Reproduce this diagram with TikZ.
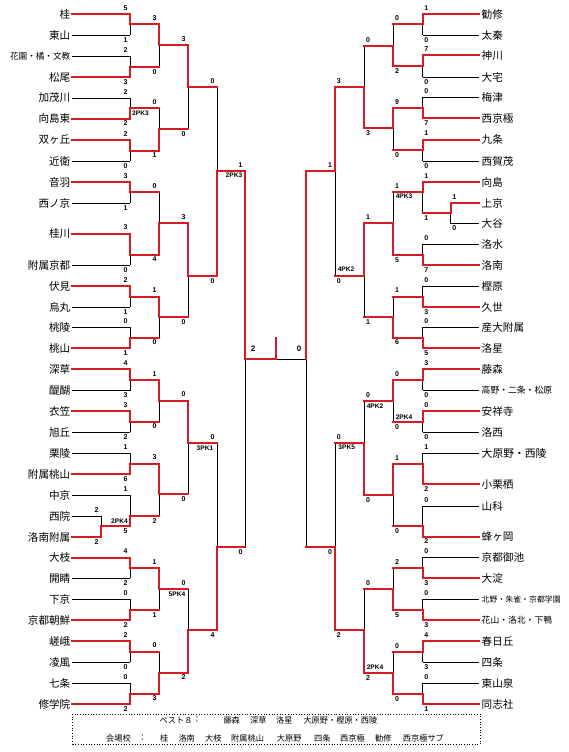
\documentclass[tikz,border=0pt]{standalone}
\usepackage{fontspec}
\setmainfont{Liberation Sans}
\newfontfamily\jpf{Noto Sans CJK JP}
\definecolor{wred}{RGB}{214,28,34}
\pgfdeclarelayer{bg}
\pgfsetlayers{bg,main}
\tikzset{
 blk/.style={line width=0.8pt, black},
 win/.style={line width=2pt, wred, line join=miter, line cap=rect},
 sc/.style={font=\fontsize{7}{7}\selectfont\bfseries, inner sep=0pt},
 pk/.style={font=\fontsize{6.6}{7}\selectfont\bfseries, inner sep=0pt},
 leg/.style={font=\fontsize{8.2}{9}\jpf, inner sep=0pt, anchor=west},
}
\newcounter{nd}
\newcommand{\bmatch}[7]{%
 \begin{pgfonlayer}{bg}\draw[blk] (#2,#4)--(#2,#5);\end{pgfonlayer}
 \draw[win] (#1,#7)--(#2,#7)--(#2,#6)--(#3,#6);}
\newcommand{\sco}[3]{\stepcounter{nd}\node[sc] (s\thend) at (#1,#2) {#3};}
\newcommand{\scL}[5]{\sco{#1-4.5}{#2-6}{#4}\sco{#1-4.5}{#3+5}{#5}}
\newcommand{\scR}[5]{\sco{#1+3.7}{#2-6}{#4}\sco{#1+3.7}{#3+5}{#5}}
\newcommand{\pkl}[3]{\stepcounter{nd}\node[pk] (p\thend) at (#1,#2) {#3};}
\begin{document}
\begin{tikzpicture}[x=1pt,y=-1pt]
\useasboundingbox (0,0) rectangle (569,752);
\begin{pgfonlayer}{bg}\fill[white] (0,0) rectangle (569,752);\end{pgfonlayer}
% ---------- teams left
\foreach \n/\y/\f/\e [count=\i] in {桂/14/10.6/130, 東山/35/10.6/130, 花園・橘・文教/56.5/8.6/130, 松尾/77/10.6/130, 加茂川/98/10.6/130, 向島東/118.5/10.6/130, 双ヶ丘/140/10.6/130, 近衛/161/10.6/130, 音羽/182/10.6/130, 西ノ京/203/10.6/130, 桂川/233.5/10.6/130, 附属京都/265/10.6/130, 伏見/286/10.6/130, 烏丸/307/10.6/130, 桃陵/327/10.6/130, 桃山/348/10.6/130, 深草/369/10.6/130, 醍醐/390.5/10.6/130, 衣笠/411/10.6/130, 旭丘/432/10.6/130, 栗陵/453/10.6/130, 附属桃山/474/10.6/130, 中京/495/10.6/130, 西院/516/10.6/101, 洛南附属/537/10.6/101, 大枝/557.5/10.6/130, 開睛/578/10.6/130, 下京/599/10.6/130, 京都朝鮮/620/10.6/130, 嵯峨/641/10.6/130, 凌風/662/10.6/130, 七条/683/10.6/130, 修学院/704/10.6/130}{
 \node[inner sep=0pt, font=\fontsize{\f}{\f}\jpf, anchor=east] (tl\i) at (70.5,\y) {\n};
 \begin{pgfonlayer}{bg}\draw[blk] (72,\y)--(\e,\y);\end{pgfonlayer}
}
% ---------- teams right
\foreach \n/\y/\f/\e [count=\i] in {勧修/14/10.6/422.7, 太秦/35/10.6/422.7, 神川/55.5/10.6/422.7, 大宅/77/10.6/422.7, 梅津/97/10.6/422.7, 西京極/118/10.6/422.7, 九条/139.5/10.6/422.7, 西賀茂/161/10.6/422.7, 向島/182/10.6/422.7, 上京/203/10.6/450.7, 大谷/223.5/10.6/450.7, 洛水/244/10.6/422.7, 洛南/265/10.6/422.7, 樫原/286/10.6/422.7, 久世/307/10.6/422.7, 産大附属/327/10.6/422.7, 洛星/348/10.6/422.7, 藤森/369/10.6/422.7, 高野・二条・松原/390/8.8/422.7, 安祥寺/411/10.6/422.7, 洛西/432/10.6/422.7, 大原野・西陵/453/10.8/422.7, 小栗栖/484/10.6/422.7, 山科/506/10.6/422.7, 蜂ヶ岡/536.5/10.6/422.7, 京都御池/557/10.6/422.7, 大淀/578/10.6/422.7, 北野・朱雀・京都学園/599/7.9/422.7, 花山・洛北・下鴨/620/8.8/422.7, 春日丘/641/10.6/422.7, 四条/662/10.6/422.7, 東山泉/683/10.6/422.7, 同志社/704/10.6/422.7}{
 \node[inner sep=0pt, font=\fontsize{\f}{\f}\jpf, anchor=west] (tr\i) at (481.5,\y) {\n};
 \begin{pgfonlayer}{bg}\draw[blk] (479,\y)--(\e,\y);\end{pgfonlayer}
}
% ---------- left bracket
\bmatch{72}{101}{130}{516}{537}{526}{537}
\bmatch{72}{130}{159}{14}{35}{24.5}{14}
\bmatch{72}{130}{159}{56.5}{77}{67}{77}
\bmatch{72}{130}{159}{98}{118.5}{108}{118.5}
\bmatch{72}{130}{159}{140}{161}{150.5}{140}
\bmatch{72}{130}{159}{182}{203}{192}{182}
\bmatch{72}{130}{159}{233.5}{265}{254.5}{233.5}
\bmatch{72}{130}{159}{286}{307}{296.5}{286}
\bmatch{72}{130}{159}{327}{348}{337.5}{348}
\bmatch{72}{130}{159}{369}{390.5}{380}{369}
\bmatch{72}{130}{159}{411}{432}{421.5}{411}
\bmatch{72}{130}{159}{453}{474}{463.5}{474}
\bmatch{101}{130}{159}{495}{526}{516}{526}
\bmatch{72}{130}{159}{557.5}{578}{568}{557.5}
\bmatch{72}{130}{159}{599}{620}{610}{620}
\bmatch{72}{130}{159}{641}{662}{651.5}{641}
\bmatch{72}{130}{159}{683}{704}{693.5}{704}
\bmatch{130}{159}{188}{24.5}{67}{45.5}{24.5}
\bmatch{130}{159}{188}{108}{150.5}{129}{150.5}
\bmatch{130}{159}{188}{192}{254.5}{223}{254.5}
\bmatch{130}{159}{188}{296.5}{337.5}{317}{296.5}
\bmatch{130}{159}{188}{380}{421.5}{400.5}{380}
\bmatch{130}{159}{188}{463.5}{516}{494}{463.5}
\bmatch{130}{159}{188}{568}{610}{589}{568}
\bmatch{130}{159}{188}{651.5}{693.5}{672.5}{693.5}
\bmatch{159}{188}{217}{45.5}{129}{87}{45.5}
\bmatch{159}{188}{217}{223}{317}{276}{223}
\bmatch{159}{188}{217}{400.5}{494}{442.7}{400.5}
\bmatch{159}{188}{217}{589}{672.5}{630}{672.5}
\bmatch{188}{217}{245}{87}{276}{170.7}{276}
\bmatch{188}{217}{245}{442.7}{630}{546.7}{630}
\begin{pgfonlayer}{bg}
 \draw[blk] (245,170.7)--(245,546.7);
 \draw[blk] (276,359)--(306,359);
 \draw[blk] (306,170.7)--(306,546.7);
\end{pgfonlayer}
\draw[win] (217,170.7)--(245,170.7)--(245,359)--(276,359)--(276,338);
% ---------- right bracket
\bmatch{479}{450.7}{422.7}{203}{223.5}{212.7}{203}
\bmatch{479}{422.7}{393.3}{14}{35}{24.5}{14}
\bmatch{479}{422.7}{393.3}{55.5}{77}{66.5}{55.5}
\bmatch{479}{422.7}{393.3}{97}{118}{108}{118}
\bmatch{479}{422.7}{393.3}{139.5}{161}{150}{139.5}
\bmatch{479}{422.7}{393.3}{182}{212.7}{191.7}{182}
\bmatch{479}{422.7}{393.3}{244}{265}{255}{265}
\bmatch{479}{422.7}{393.3}{286}{307}{296.5}{307}
\bmatch{479}{422.7}{393.3}{327}{348}{337.5}{348}
\bmatch{479}{422.7}{393.3}{369}{390}{380}{369}
\bmatch{479}{422.7}{393.3}{411}{432}{421.7}{411}
\bmatch{479}{422.7}{393.3}{453}{484}{464}{484}
\bmatch{479}{422.7}{393.3}{506}{536.5}{525.7}{536.5}
\bmatch{479}{422.7}{393.3}{557}{578}{568}{578}
\bmatch{479}{422.7}{393.3}{599}{620}{610}{620}
\bmatch{479}{422.7}{393.3}{641}{662}{651.7}{641}
\bmatch{479}{422.7}{393.3}{683}{704}{694}{704}
\bmatch{422.7}{393.3}{364.3}{24.5}{66.5}{45.7}{66.5}
\bmatch{422.7}{393.3}{364.3}{108}{150}{128.3}{108}
\bmatch{422.7}{393.3}{364.3}{191.7}{255}{222.7}{255}
\bmatch{422.7}{393.3}{364.3}{296.5}{337.5}{316.7}{337.5}
\bmatch{422.7}{393.3}{364.3}{380}{421.7}{400.7}{380}
\bmatch{422.7}{393.3}{364.3}{464}{525.7}{495}{464}
\bmatch{422.7}{393.3}{364.3}{568}{610}{589.3}{610}
\bmatch{422.7}{393.3}{364.3}{651.7}{694}{672.7}{694}
\bmatch{393.3}{364.3}{335}{45.7}{128.3}{87.3}{128.3}
\bmatch{393.3}{364.3}{335}{222.7}{316.7}{276}{222.7}
\bmatch{393.3}{364.3}{335}{400.7}{495}{442.7}{495}
\bmatch{393.3}{364.3}{335}{589.3}{672.7}{630}{672.7}
\bmatch{364.3}{335}{306}{87.3}{276}{170.7}{87.3}
\bmatch{364.3}{335}{306}{442.7}{630}{546.7}{630}
\draw[win] (335,170.7)--(306,170.7)--(306,359);
% ---------- scores left
\scL{101}{516}{537}{2}{2}
\scL{130}{14}{35}{5}{1}
\scL{130}{56.5}{77}{2}{3}
\scL{130}{98}{118.5}{2}{2}
\scL{130}{140}{161}{2}{0}
\scL{130}{182}{203}{3}{1}
\scL{130}{233.5}{265}{3}{0}
\scL{130}{286}{307}{2}{1}
\scL{130}{327}{348}{0}{1}
\scL{130}{369}{390.5}{4}{3}
\scL{130}{411}{432}{3}{2}
\scL{130}{453}{474}{1}{6}
\scL{130}{495}{526}{1}{5}
\scL{130}{557.5}{578}{4}{2}
\scL{130}{599}{620}{0}{2}
\scL{130}{641}{662}{2}{0}
\scL{130}{683}{704}{0}{2}
\scL{159}{24.5}{67}{3}{0}
\scL{159}{108}{150.5}{0}{1}
\scL{159}{192}{254.5}{0}{4}
\scL{159}{296.5}{337.5}{1}{0}
\scL{159}{380}{421.5}{1}{0}
\scL{159}{463.5}{516}{3}{2}
\scL{159}{568}{610}{1}{1}
\scL{159}{651.5}{693.5}{0}{3}
\scL{188}{45.5}{129}{3}{0}
\scL{188}{223}{317}{3}{0}
\scL{188}{400.5}{494}{0}{0}
\scL{188}{589}{672.5}{0}{2}
\scL{217}{87}{276}{0}{0}
\scL{217}{442.7}{630}{0}{4}
\scL{245}{170.7}{546.7}{1}{0}
% ---------- scores right
\scR{450.7}{203}{223.5}{1}{0}
\scR{422.7}{14}{35}{1}{0}
\scR{422.7}{55.5}{77}{7}{0}
\scR{422.7}{97}{118}{0}{7}
\scR{422.7}{139.5}{161}{1}{0}
\scR{422.7}{182}{212.7}{1}{1}
\scR{422.7}{244}{265}{0}{7}
\scR{422.7}{286}{307}{0}{3}
\scR{422.7}{327}{348}{0}{5}
\scR{422.7}{369}{390}{3}{0}
\scR{422.7}{411}{432}{0}{0}
\scR{422.7}{453}{484}{1}{2}
\scR{422.7}{506}{536.5}{0}{2}
\scR{422.7}{557}{578}{0}{3}
\scR{422.7}{599}{620}{0}{3}
\scR{422.7}{641}{662}{4}{3}
\scR{422.7}{683}{704}{0}{1}
\scR{393.3}{24.5}{66.5}{0}{2}
\scR{393.3}{108}{150}{9}{0}
\scR{393.3}{191.7}{255}{1}{5}
\scR{393.3}{296.5}{337.5}{1}{6}
\scR{393.3}{380}{421.7}{0}{0}
\scR{393.3}{464}{525.7}{1}{0}
\scR{393.3}{568}{610}{2}{5}
\scR{393.3}{651.7}{694}{0}{0}
\scR{364.3}{45.7}{128.3}{0}{3}
\scR{364.3}{222.7}{316.7}{1}{1}
\scR{364.3}{400.7}{495}{0}{0}
\scR{364.3}{589.3}{672.7}{0}{2}
\scR{335}{87.3}{276}{3}{0}
\scR{335}{442.7}{630}{0}{2}
\sco{330}{164.7}{1}
\sco{330}{551.7}{0}
% final
\node[sc, font=\fontsize{8}{8}\selectfont\bfseries] (fl) at (253,349) {2};
\node[sc, font=\fontsize{8}{8}\selectfont\bfseries] (fr) at (299,349) {0};
% ---------- PK labels
\pkl{140.5}{113}{2PK3}
\pkl{119.5}{521}{2PK4}
\pkl{177}{594}{5PK4}
\pkl{205}{448}{3PK1}
\pkl{234}{175.7}{2PK3}
\pkl{404}{196}{4PK3}
\pkl{346}{269}{4PK2}
\pkl{404}{416.7}{2PK4}
\pkl{375}{405.7}{4PK2}
\pkl{346.7}{447.7}{3PK5}
\pkl{375}{666.7}{2PK4}
% ---------- legend
\draw[line width=0.7pt, dotted] (72.7,714) rectangle (480,744);
\foreach \t/\x [count=\i] in {ベスト８/159.3, ：/192.6, 藤森/223.3, 深草/250, 洛星/276, 大原野・樫原・西陵/303.3}{
 \node[leg] (la\i) at (\x,720) {\t};}
\foreach \t/\x [count=\i] in {会場校/106, ：/138.2, 桂/160, 洛南/178.3, 大枝/205, 附属桃山/231, 大原野/276.7, 四条/314, 西京極/340, 勧修/375, 西京極サブ/402.7}{
 \node[leg] (lb\i) at (\x,738) {\t};}
\end{tikzpicture}
\end{document}
